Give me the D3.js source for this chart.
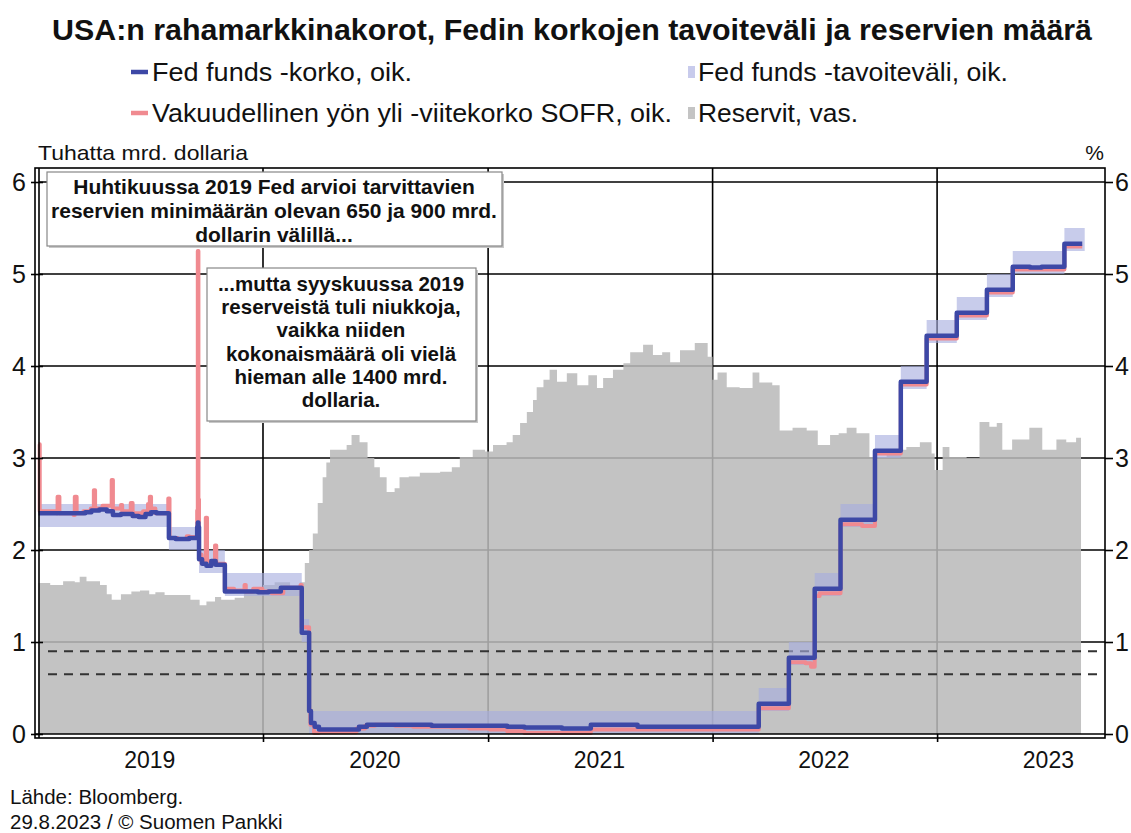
<!DOCTYPE html>
<html>
<head>
<meta charset="utf-8">
<script src="https://cdn.jsdelivr.net/npm/d3@7"></script>
<style>
  body { margin: 0; background: #fff; }
  text { font-family: "Liberation Sans", Arial, sans-serif; }
</style>
</head>
<body>
<svg width="1131" height="833"></svg>
<script>
// Fed funds target range (step changes)
var targetDates = ["2019-01-01", "2019-08-01", "2019-09-19", "2019-10-31", "2020-03-04", "2020-03-16",
  "2022-03-17", "2022-05-05", "2022-06-16", "2022-07-28", "2022-09-22", "2022-11-03", "2022-12-15",
  "2023-02-02", "2023-03-23", "2023-05-04", "2023-07-27", "2023-08-29"];
var targetLow = [2.25, 2.00, 1.75, 1.50, 1.00, 0.00, 0.25, 0.75, 1.50, 2.25, 3.00, 3.75, 4.25, 4.50, 4.75, 5.00, 5.25, 5.25];
var targetHigh = [2.50, 2.25, 2.00, 1.75, 1.25, 0.25, 0.50, 1.00, 1.75, 2.50, 3.25, 4.00, 4.50, 4.75, 5.00, 5.25, 5.50, 5.50];

// Effective fed funds rate
var effrDates = ["2019-01-01", "2019-03-18", "2019-03-28", "2019-04-10", "2019-04-22", "2019-05-02", "2019-05-15",
  "2019-06-03", "2019-06-13", "2019-06-24", "2019-07-03", "2019-07-12", "2019-08-01", "2019-08-12", "2019-09-03",
  "2019-09-16", "2019-09-17", "2019-09-18", "2019-09-19", "2019-09-24", "2019-10-01", "2019-10-09", "2019-10-16",
  "2019-10-31", "2019-12-24", "2020-01-10", "2020-01-30", "2020-03-04", "2020-03-16", "2020-03-19", "2020-03-25",
  "2020-04-01", "2020-06-05", "2020-06-18", "2020-10-01", "2021-02-01", "2021-03-01", "2021-05-01", "2021-06-17",
  "2021-09-01", "2022-03-17", "2022-05-05", "2022-06-16", "2022-07-28", "2022-09-22", "2022-11-03", "2022-12-15",
  "2023-02-02", "2023-03-23", "2023-05-04", "2023-06-01", "2023-06-20", "2023-07-27", "2023-08-25"];
var effrValues = [2.40, 2.41, 2.43, 2.44, 2.42, 2.38, 2.39,
  2.37, 2.36, 2.39, 2.41, 2.40, 2.13, 2.12, 2.13,
  2.25, 2.30, 2.25, 1.90, 1.85, 1.83, 1.88, 1.84,
  1.55, 1.54, 1.55, 1.59, 1.10, 0.25, 0.12, 0.08,
  0.05, 0.08, 0.10, 0.09, 0.08, 0.07, 0.06, 0.10,
  0.08, 0.33, 0.83, 1.58, 2.33, 3.08, 3.83, 4.33,
  4.58, 4.83, 5.08, 5.07, 5.08, 5.33, 5.33];

// SOFR
var sofrDates = ["2019-01-01", "2019-01-03", "2019-01-30", "2019-02-01", "2019-02-04", "2019-02-27", "2019-03-01",
  "2019-03-04", "2019-03-15", "2019-03-27", "2019-04-01", "2019-04-03", "2019-04-15", "2019-04-30", "2019-05-02",
  "2019-05-15", "2019-05-17", "2019-05-31", "2019-06-03", "2019-06-20", "2019-06-28", "2019-07-01", "2019-07-03",
  "2019-07-10", "2019-07-31", "2019-08-02", "2019-08-15", "2019-08-30", "2019-09-03", "2019-09-16", "2019-09-17",
  "2019-09-18", "2019-09-19", "2019-09-23", "2019-09-30", "2019-10-02", "2019-10-15", "2019-10-17", "2019-10-31",
  "2019-11-15", "2019-12-02", "2019-12-04", "2019-12-16", "2019-12-31", "2020-01-15", "2020-02-03", "2020-03-02",
  "2020-03-04", "2020-03-16", "2020-03-18", "2020-03-24", "2020-04-01", "2020-06-01", "2020-06-15", "2020-07-01",
  "2020-08-03", "2020-09-01", "2020-11-02", "2020-12-01", "2021-01-04", "2021-02-01", "2021-03-01", "2021-06-17",
  "2022-03-17", "2022-05-05", "2022-06-01", "2022-06-10", "2022-06-16", "2022-06-24", "2022-07-28", "2022-09-01",
  "2022-09-22", "2022-11-03", "2022-12-15", "2023-02-02", "2023-03-23", "2023-05-04", "2023-07-27", "2023-08-25"];
var sofrValues = [3.15, 2.42, 2.40, 2.58, 2.40, 2.38, 2.58,
  2.40, 2.42, 2.45, 2.65, 2.45, 2.48, 2.76, 2.45,
  2.49, 2.42, 2.51, 2.40, 2.42, 2.50, 2.58, 2.45,
  2.40, 2.56, 2.13, 2.12, 2.15, 2.14, 2.43, 5.25,
  2.55, 1.95, 1.86, 2.35, 1.88, 2.05, 1.85, 1.58,
  1.56, 1.62, 1.55, 1.58, 1.55, 1.53, 1.59, 1.62,
  1.16, 0.26, 0.10, 0.01, 0.02, 0.06, 0.09, 0.10,
  0.09, 0.08, 0.07, 0.06, 0.05, 0.03, 0.01, 0.05,
  0.28, 0.78, 0.77, 0.73, 1.50, 1.53, 2.28, 2.26,
  3.05, 3.80, 4.30, 4.55, 4.80, 5.05, 5.30, 5.30];

// Reserves, thousand bn USD
var reserveDates = ["2019-01-01", "2019-01-20", "2019-02-10", "2019-03-01", "2019-03-09", "2019-03-20", "2019-04-11",
  "2019-04-22", "2019-04-30", "2019-05-15", "2019-06-01", "2019-06-15", "2019-06-30", "2019-07-10", "2019-07-25",
  "2019-08-19", "2019-09-05", "2019-09-20", "2019-10-01", "2019-10-15", "2019-10-25", "2019-11-16", "2019-12-01",
  "2019-12-15", "2020-01-01", "2020-01-20", "2020-02-14", "2020-03-01", "2020-03-09", "2020-03-16", "2020-03-22",
  "2020-03-30", "2020-04-07", "2020-04-13", "2020-04-19", "2020-05-01", "2020-05-16", "2020-05-24", "2020-06-06",
  "2020-06-19", "2020-06-30", "2020-07-09", "2020-07-20", "2020-08-02", "2020-08-10", "2020-08-25", "2020-09-12",
  "2020-10-15", "2020-11-03", "2020-11-16", "2020-12-07", "2020-12-27", "2021-01-09", "2021-01-31", "2021-02-10",
  "2021-02-22", "2021-03-05", "2021-03-15", "2021-03-21", "2021-04-01", "2021-04-11", "2021-04-23", "2021-05-09",
  "2021-05-26", "2021-06-13", "2021-06-27", "2021-07-07", "2021-07-23", "2021-08-09", "2021-08-20", "2021-09-10",
  "2021-09-26", "2021-10-11", "2021-10-24", "2021-11-09", "2021-12-03", "2021-12-24", "2022-01-01", "2022-01-09",
  "2022-01-24", "2022-02-14", "2022-03-07", "2022-03-18", "2022-04-08", "2022-04-20", "2022-05-11", "2022-06-03",
  "2022-06-21", "2022-07-11", "2022-07-25", "2022-08-07", "2022-08-23", "2022-09-13", "2022-10-11", "2022-11-12",
  "2022-12-04", "2022-12-23", "2022-12-28", "2023-01-10", "2023-01-21", "2023-02-18", "2023-03-11", "2023-03-27",
  "2023-04-08", "2023-04-17", "2023-05-03", "2023-05-31", "2023-06-21", "2023-07-14", "2023-07-30", "2023-08-15",
  "2023-08-23"];
var reserveValues = [1.64, 1.62, 1.66, 1.65, 1.71, 1.66, 1.62,
  1.52, 1.46, 1.52, 1.55, 1.56, 1.52, 1.54, 1.51,
  1.51, 1.46, 1.40, 1.44, 1.49, 1.46, 1.48, 1.55,
  1.58, 1.62, 1.65, 1.60, 1.65, 1.86, 2.00, 2.18,
  2.51, 2.79, 2.95, 3.09, 3.09, 3.14, 3.25, 3.17,
  3.00, 2.90, 2.79, 2.63, 2.67, 2.79, 2.80, 2.84,
  2.85, 2.90, 3.01, 3.09, 3.07, 3.14, 3.17, 3.25,
  3.38, 3.50, 3.63, 3.77, 3.85, 3.96, 3.83, 3.92,
  3.79, 3.90, 3.76, 3.87, 3.96, 4.03, 4.15, 4.23,
  4.12, 4.15, 4.04, 4.17, 4.25, 4.10, 3.85, 3.93,
  3.77, 3.76, 3.93, 3.82, 3.79, 3.30, 3.33, 3.30,
  3.14, 3.25, 3.27, 3.33, 3.27, 3.01, 3.09, 3.12,
  3.17, 3.05, 2.87, 3.12, 3.01, 3.00, 3.39, 3.34,
  3.38, 3.09, 3.20, 3.33, 3.09, 3.20, 3.17, 3.22,
  3.20];

var axisTicks = [0, 1, 2, 3, 4, 5, 6];
var yearLabels = ["2019", "2020", "2021", "2022", "2023"];
var guideLevels = [0.9, 0.65];

var parse = d3.timeParse("%Y-%m-%d");
var svg = d3.select("svg");

var x = d3.scaleTime()
  .domain([parse("2019-01-01"), parse("2023-10-01")])
  .range([38.5, 1105]);
var y = d3.scaleLinear().domain([0, 6]).range([734, 182]);
var plotTop = 168;

// gridlines
svg.append("g").selectAll("line.hgrid")
  .data(axisTicks.slice(1))
  .enter().append("line")
  .attr("x1", 39).attr("x2", 1105)
  .attr("y1", function(d) { return y(d); })
  .attr("y2", function(d) { return y(d); })
  .attr("stroke", "#000").attr("stroke-width", 1.6);

var yearStarts = yearLabels.slice(1).map(function(d) { return parse(d + "-01-01"); });
svg.append("g").selectAll("line.vgrid")
  .data(yearStarts)
  .enter().append("line")
  .attr("x1", function(d) { return x(d); })
  .attr("x2", function(d) { return x(d); })
  .attr("y1", plotTop).attr("y2", 734)
  .attr("stroke", "#000").attr("stroke-width", 1.6);

// reserves area
var reserves = reserveDates.map(function(d, i) { return { date: parse(d), v: reserveValues[i] }; });
svg.append("path")
  .datum(reserves)
  .attr("d", d3.area()
    .curve(d3.curveStepAfter)
    .x(function(d) { return x(d.date); })
    .y0(y(0))
    .y1(function(d) { return y(d.v); }))
  .attr("fill", "#b9b9b9")
  .attr("fill-opacity", 0.86);

// 650 / 900 bn guide lines
svg.append("g").selectAll("line.guide")
  .data(guideLevels)
  .enter().append("line")
  .attr("x1", 48).attr("x2", 1104)
  .attr("y1", function(d) { return y(d); })
  .attr("y2", function(d) { return y(d); })
  .attr("stroke", "#333")
  .attr("stroke-width", 2)
  .attr("stroke-dasharray", "9,7");

// target range band
var band = targetDates.map(function(d, i) { return { date: parse(d), lo: targetLow[i], hi: targetHigh[i] }; });
svg.append("path")
  .datum(band)
  .attr("d", d3.area()
    .curve(d3.curveStepAfter)
    .x(function(d) { return x(d.date); })
    .y0(function(d) { return y(d.lo); })
    .y1(function(d) { return y(d.hi); }))
  .attr("fill", "#a6acdf")
  .attr("fill-opacity", 0.62);

var stepLine = d3.line()
  .curve(d3.curveStepAfter)
  .x(function(d) { return x(d.date); })
  .y(function(d) { return y(d.v); });

var sofr = sofrDates.map(function(d, i) { return { date: parse(d), v: sofrValues[i] }; });
svg.append("path")
  .datum(sofr)
  .attr("d", stepLine)
  .attr("fill", "none")
  .attr("stroke", "#f08a90")
  .attr("stroke-width", 4)
  .attr("stroke-linejoin", "round");

var effr = effrDates.map(function(d, i) { return { date: parse(d), v: effrValues[i] }; });
svg.append("path")
  .datum(effr)
  .attr("d", stepLine)
  .attr("fill", "none")
  .attr("stroke", "#3d48a6")
  .attr("stroke-width", 4.5)
  .attr("stroke-linejoin", "round");

// frame
svg.append("rect")
  .attr("x", 35).attr("y", plotTop)
  .attr("width", 1070).attr("height", 738 - plotTop)
  .attr("fill", "none").attr("stroke", "#000").attr("stroke-width", 1.6);
svg.append("line").attr("x1", 39).attr("x2", 39).attr("y1", plotTop).attr("y2", 738)
  .attr("stroke", "#000").attr("stroke-width", 1.6);
svg.append("line").attr("x1", 35).attr("x2", 1105).attr("y1", 734).attr("y2", 734)
  .attr("stroke", "#000").attr("stroke-width", 1.6);

// axes
var leftAxis = svg.append("g")
  .attr("transform", "translate(39,0)")
  .call(d3.axisLeft(y).tickValues(axisTicks).tickSize(8).tickPadding(5).tickFormat(d3.format("d")));
var rightAxis = svg.append("g")
  .attr("transform", "translate(1105,0)")
  .call(d3.axisRight(y).tickValues(axisTicks).tickSize(8).tickPadding(2).tickFormat(d3.format("d")));
var bottomAxis = svg.append("g")
  .attr("transform", "translate(0,734)")
  .call(d3.axisBottom(x).tickValues(yearStarts).tickSize(8).tickFormat(""));

[leftAxis, rightAxis, bottomAxis].forEach(function(g) {
  g.select(".domain").remove();
  g.selectAll(".tick line").attr("stroke", "#000").attr("stroke-width", 1.6);
  g.selectAll("text")
    .attr("font-family", "Liberation Sans, Arial, sans-serif")
    .attr("font-size", 25)
    .attr("fill", "#111");
});
leftAxis.selectAll(".tick line").attr("x2", 4).attr("x1", -8);

svg.append("g").selectAll("text.year")
  .data(yearLabels)
  .enter().append("text")
  .attr("x", function(d) { return x(parse(d + "-07-01")); })
  .attr("y", 768)
  .attr("text-anchor", "middle")
  .attr("font-size", 23)
  .attr("fill", "#111")
  .text(function(d) { return d; });

// titles and labels
svg.append("text")
  .attr("x", 572).attr("y", 40)
  .attr("text-anchor", "middle")
  .attr("font-size", 29)
  .attr("font-weight", "bold")
  .attr("fill", "#111")
  .attr("textLength", 1040)
  .attr("lengthAdjust", "spacingAndGlyphs")
  .text("USA:n rahamarkkinakorot, Fedin korkojen tavoiteväli ja reservien määrä");

svg.append("text").attr("x", 38).attr("y", 160).attr("font-size", 21).attr("fill", "#111")
  .attr("textLength", 210).attr("lengthAdjust", "spacingAndGlyphs")
  .text("Tuhatta mrd. dollaria");
svg.append("text").attr("x", 1104).attr("y", 160).attr("text-anchor", "end").attr("font-size", 21).attr("fill", "#111")
  .text("%");

// legend
var legendItems = [
  { label: "Fed funds -korko, oik.", color: "#3d48a6", kind: "line", lx: 131, ly: 72, tw: 260 },
  { label: "Fed funds -tavoiteväli, oik.", color: "#c8cbec", kind: "box", lx: 686, ly: 72, tw: 310 },
  { label: "Vakuudellinen yön yli -viitekorko SOFR, oik.", color: "#f08a90", kind: "line", lx: 131, ly: 113, tw: 520 },
  { label: "Reservit, vas.", color: "#c4c4c4", kind: "box", lx: 686, ly: 113, tw: 160 }
];
var legend = svg.append("g").selectAll("g").data(legendItems).enter().append("g");
legend.filter(function(d) { return d.kind === "line"; })
  .append("line")
  .attr("x1", function(d) { return d.lx; })
  .attr("x2", function(d) { return d.lx + 17; })
  .attr("y1", function(d) { return d.ly; })
  .attr("y2", function(d) { return d.ly; })
  .attr("stroke", function(d) { return d.color; })
  .attr("stroke-width", 4.5);
legend.filter(function(d) { return d.kind === "box"; })
  .append("rect")
  .attr("x", function(d) { return d.lx + 2; })
  .attr("y", function(d) { return d.ly - 6; })
  .attr("width", 7).attr("height", 12)
  .attr("fill", function(d) { return d.color; });
legend.append("text")
  .attr("x", function(d) { return d.kind === "line" ? d.lx + 21 : d.lx + 12; })
  .attr("y", function(d) { return d.ly + 9; })
  .attr("font-size", 25)
  .attr("fill", "#111")
  .attr("textLength", function(d) { return d.tw; })
  .attr("lengthAdjust", "spacingAndGlyphs")
  .text(function(d) { return d.label; });

// annotation boxes
var notes = [
  { x: 47, y: 172, w: 455, h: 74, cx: 274, first: 194, step: 24, size: 21,
    lines: ["Huhtikuussa 2019 Fed arvioi tarvittavien", "reservien minimäärän olevan 650 ja 900 mrd.", "dollarin välillä..."] },
  { x: 207, y: 268, w: 269, h: 153, cx: 341, first: 291, step: 23.2, size: 20.5,
    lines: ["...mutta syyskuussa 2019", "reserveistä tuli niukkoja,", "vaikka niiden", "kokonaismäärä oli vielä", "hieman alle 1400 mrd.", "dollaria."] }
];
notes.forEach(function(n) {
  svg.append("rect").attr("x", n.x + 2).attr("y", n.y + 2).attr("width", n.w).attr("height", n.h)
    .attr("fill", "#c8c8c8");
  svg.append("rect").attr("x", n.x).attr("y", n.y).attr("width", n.w).attr("height", n.h)
    .attr("fill", "#fff").attr("stroke", "#888").attr("stroke-width", 1.2);
  svg.append("g").selectAll("text").data(n.lines).enter().append("text")
    .attr("x", n.cx)
    .attr("y", function(d, i) { return n.first + i * n.step; })
    .attr("text-anchor", "middle")
    .attr("font-size", n.size)
    .attr("font-weight", "bold")
    .attr("fill", "#111")
    .text(function(d) { return d; });
});

// footer
svg.append("text").attr("x", 10).attr("y", 804).attr("font-size", 20.5).attr("fill", "#111")
  .text("Lähde: Bloomberg.");
svg.append("text").attr("x", 10).attr("y", 829).attr("font-size", 20.5).attr("fill", "#111")
  .text("29.8.2023 / © Suomen Pankki");
</script>
</body>
</html>
